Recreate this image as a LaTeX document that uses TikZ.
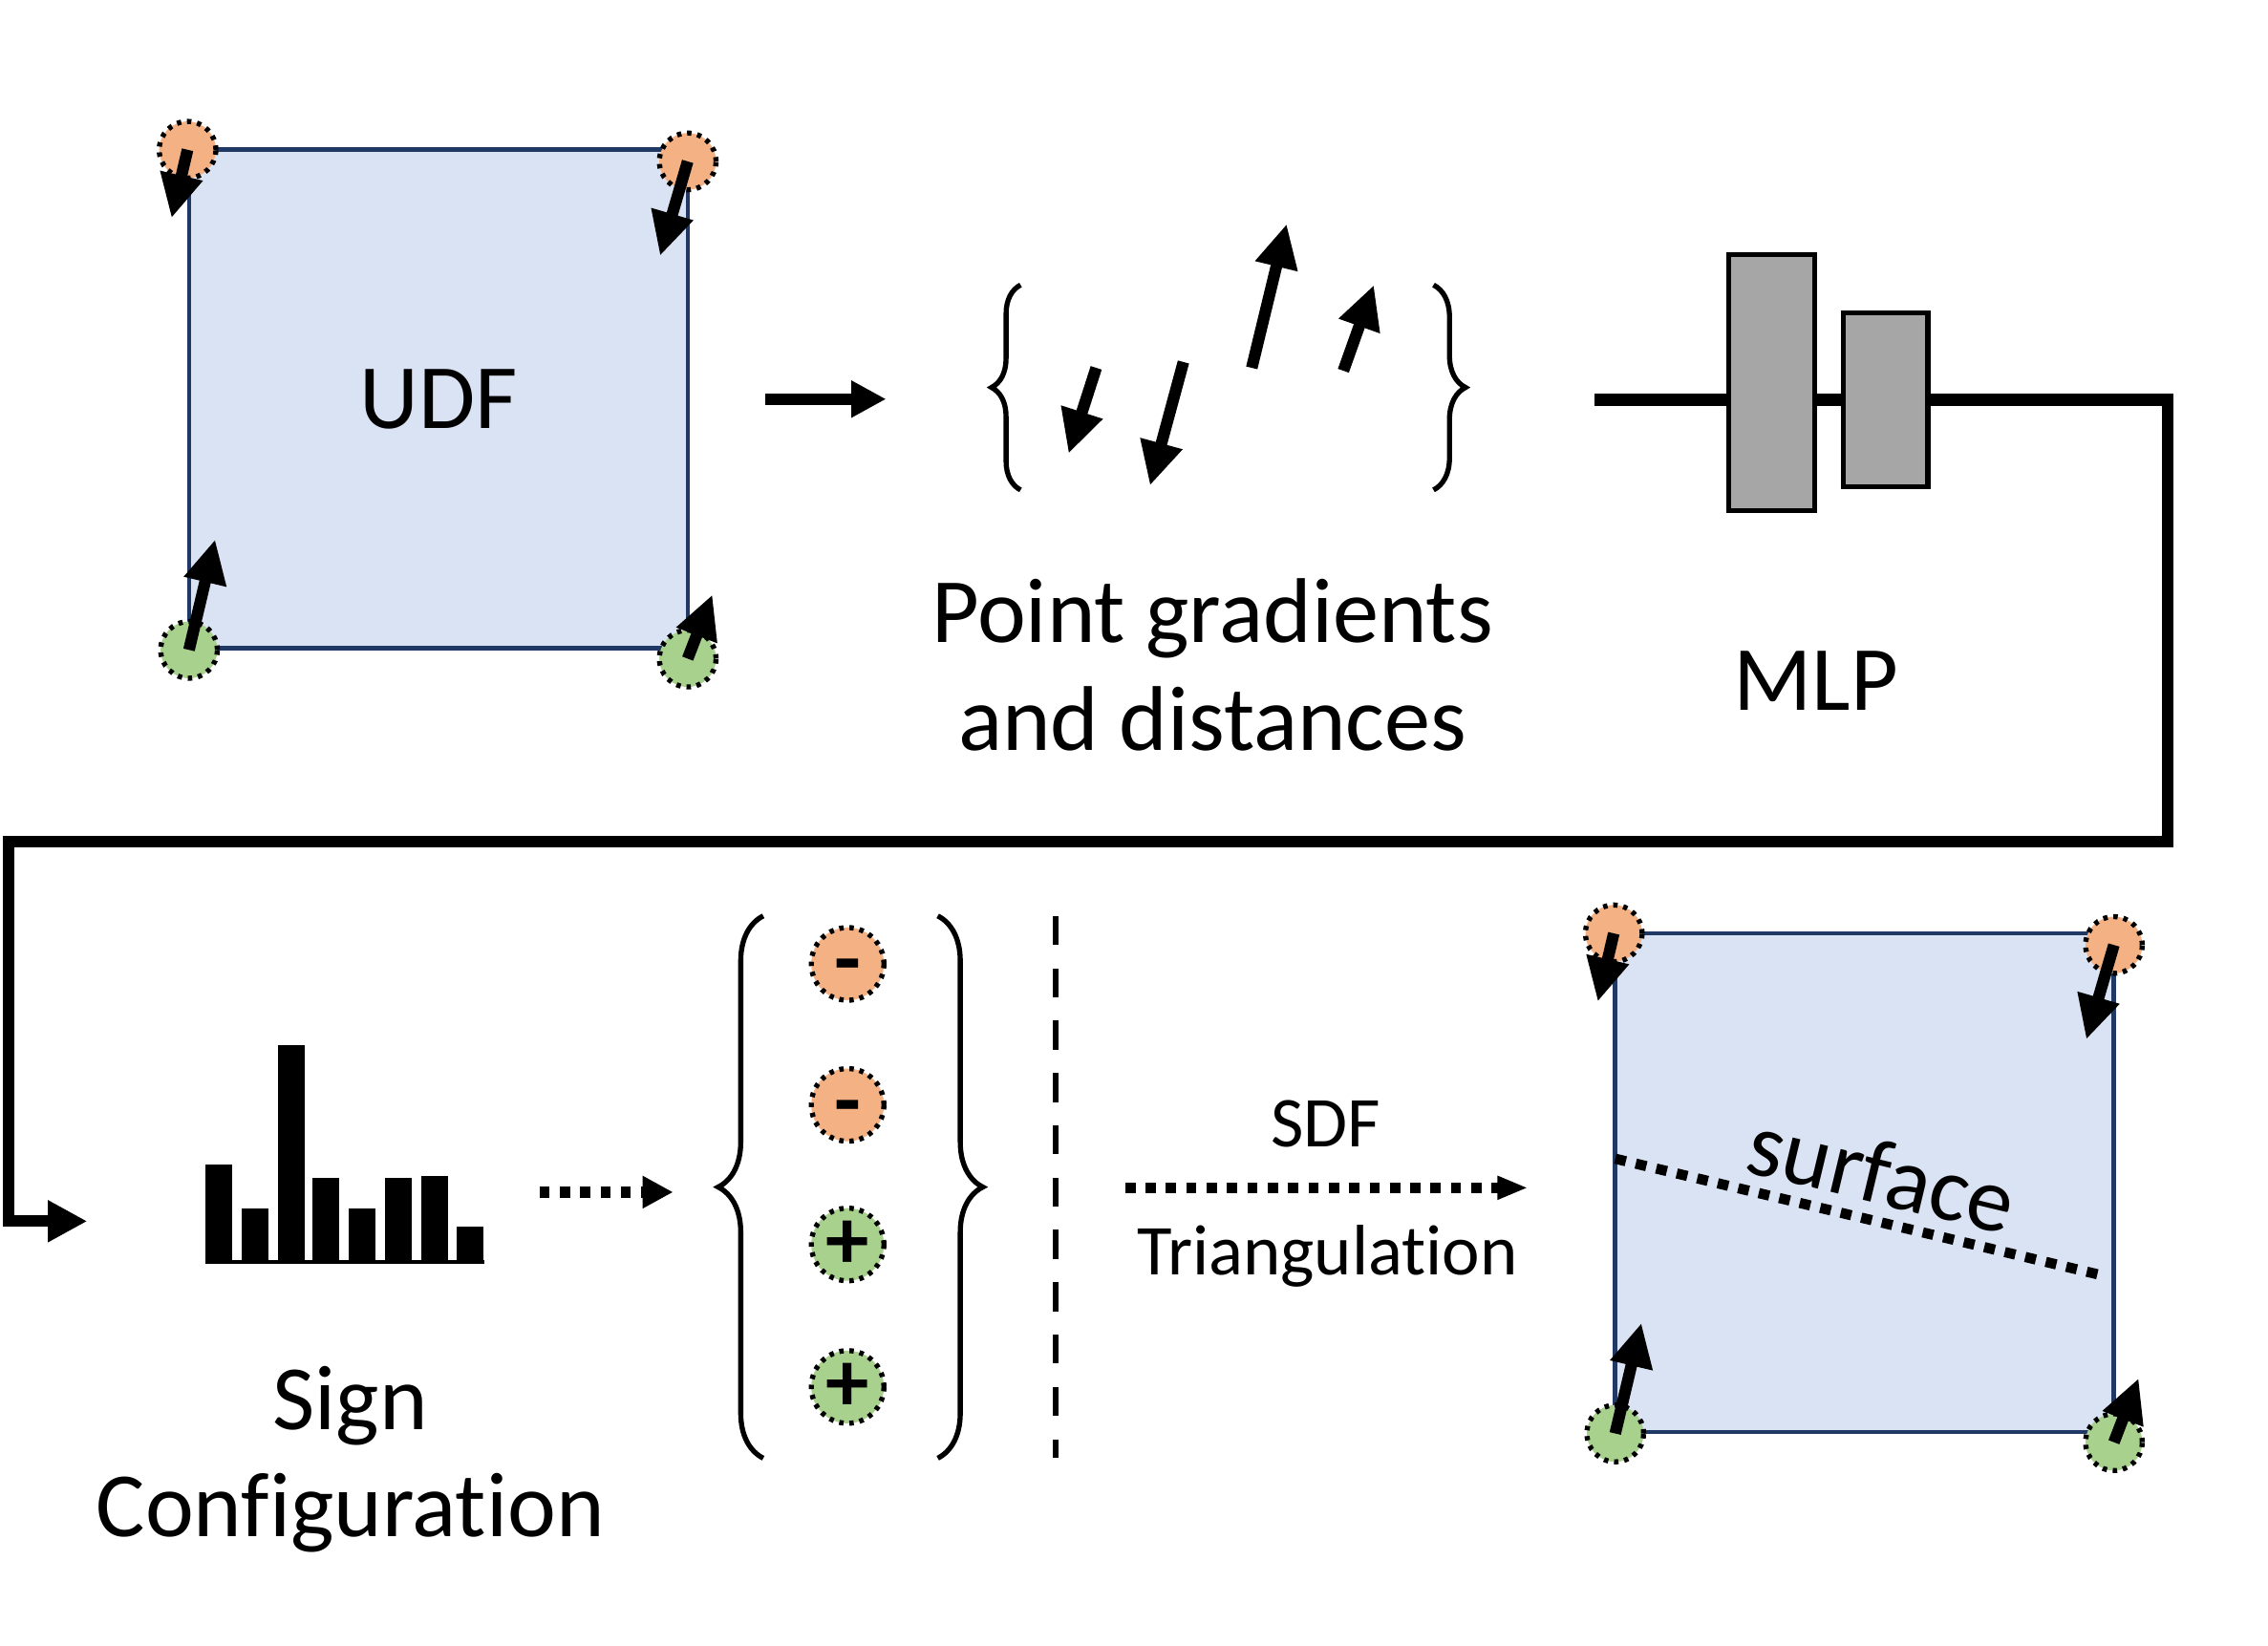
\documentclass[tikz,border=0pt]{standalone}
\usepackage{fontspec}
\setmainfont{Carlito}[Ligatures=NoCommon]
\usetikzlibrary{arrows.meta, decorations.pathreplacing}

\definecolor{cellfill}{HTML}{DAE3F3}
\definecolor{celldraw}{HTML}{1F3864}
\definecolor{negfill}{HTML}{F4B183}
\definecolor{posfill}{HTML}{A9D18E}
\definecolor{layerfill}{HTML}{A6A6A6}

\begin{document}
\begin{tikzpicture}[x=0.1mm, y=-0.1mm,
        txt/.style={font=\fontsize{18}{21}\selectfont, align=center, inner sep=0pt},
        smalltxt/.style={font=\fontsize{14}{16}\selectfont, inner sep=0pt},
        cell/.style={draw=celldraw, line width=0.3mm, fill=cellfill, minimum size=34.3mm, inner sep=0pt},
        corner/.style={circle, draw, line width=0.35mm, dash pattern=on 0.3mm off 0.4mm, minimum size=3.9mm, inner sep=0pt},
        sign/.style={corner, minimum size=5mm, text height=3.4mm, text depth=0mm, font=\fontsize{17}{17}\selectfont\bfseries},
        grad/.style={line width=0.8mm, -{Triangle[length=3mm, width=2.8mm]}},
        flow/.style={line width=0.8mm, -{Triangle[length=2.4mm, width=2.4mm]}},
        dotflow/.style={line width=0.75mm, dash pattern=on 0.7mm off 0.7mm, -{Triangle[length=2.1mm, width=2.1mm]}},
        curly/.style={decorate, decoration={brace, amplitude=#1}, line width=0.35mm},
        layer/.style={draw, line width=0.35mm, fill=layerfill, inner sep=0pt}
    ]
    \useasboundingbox (0,0) rectangle (1560,1132);

    \foreach \sq/\dx/\dy/\lbl in {udf/0/0/UDF, mesh/981/539/{}} {
        \begin{scope}[shift={(\dx,\dy)}]
            \node[cell, txt] (\sq) at (301.5,274.5) {\lbl};
            \node[corner, fill=negfill] (\sq-tl) at (129,103) {};
            \node[corner, fill=negfill] (\sq-tr) at (473,111) {};
            \node[corner, fill=posfill] (\sq-bl) at (130,447) {};
            \node[corner, fill=posfill] (\sq-br) at (473,453) {};
            \draw[grad] (\sq-tl.center) -- ++(-11,47);
            \draw[grad] (\sq-tr.center) -- ++(-19,65);
            \draw[grad] (\sq-bl.center) -- ++(18,-76);
            \draw[grad] (\sq-br.center) -- ++(17,-44);
        \end{scope}
    }

    \draw[flow] ([xshift=5.2mm]udf.east) -- ([xshift=13.5mm]udf.east);

    \draw[curly=2mm] (702,337) -- (702,196);
    \draw[curly=2.2mm] (986,196) -- (986,337);
    \draw[grad] (754,253) -- (735,312);
    \draw[grad] (814,249) -- (791,334);
    \draw[grad] (861,253) -- (885,154);
    \draw[grad] (924,255) -- (945,196);
    \node[txt, anchor=base] (gradtext) at (834,516) {Point gradients\\and distances};

    \coordinate (mlpin) at (1097,275);
    \coordinate (mlpout) at (1399,275);
    \draw[line width=0.8mm] (mlpin) -- (mlpout);
    \node[layer, minimum width=5.9mm, minimum height=17.6mm] (fc1) at (1218.5,263) {};
    \node[layer, minimum width=5.8mm, minimum height=12mm] (fc2) at (1297,275) {};
    \node[txt] (mlptext) at (1249,468) {MLP};

    \coordinate (histin) at (60,840);
    \draw[flow, -{Triangle[length=2.7mm, width=2.7mm]}] (mlpout) -| (1491,579) -- (6,579) |- (histin);

    \foreach \x/\h in {141/801, 166/831, 191/719, 215/810, 240/831, 265/810, 290/809, 314/844}
        \fill (\x,\h) rectangle (\x+18.5,868);
    \draw[line width=0.3mm] (141,868) -- (333,868);
    \node[txt, anchor=base] (signtext) at (241,1057) {Sign\\Configuration};

    \coordinate (histout) at (371,820);
    \coordinate (signsin) at (463,820);
    \draw[dotflow] (histout) -- (signsin);

    \draw[curly=3.1mm] (525,1003) -- (525,630);
    \draw[curly=3.1mm] (645,630) -- (645,1003);
    \foreach \n/\y/\c/\s in {1/663/negfill/-, 2/760/negfill/-, 3/856/posfill/+, 4/954/posfill/+}
        \node[sign, fill=\c] (sign\n) at (583,\y) {\s};
    \draw[line width=0.4mm, dash pattern=on 2mm off 1.6mm] (726,630) -- (726,1003);

    \coordinate (signsout) at (774,817);
    \coordinate (meshin) at (1051,817);
    \draw[dotflow, -{Triangle[length=2.1mm, width=1.5mm]}] (signsout) -- (meshin);
    \node[smalltxt, anchor=base] (sdftext) at (912,789) {SDF};
    \node[smalltxt, anchor=base] (tritext) at (913,877) {Triangulation};

    \coordinate (surfa) at (1111,797);
    \coordinate (surfb) at (1449,878);
    \draw[line width=0.7mm, dash pattern=on 0.75mm off 0.7mm] (surfa) -- (surfb)
        node[txt, pos=0.52, sloped, above=0.8mm] (surftext) {surface};
\end{tikzpicture}
\end{document}
